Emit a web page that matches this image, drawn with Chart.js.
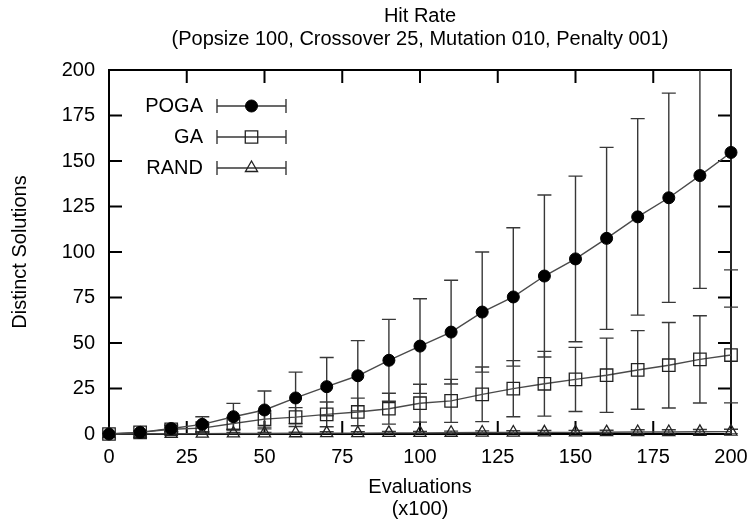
<!DOCTYPE html>
<html>
<head>
<meta charset="utf-8">
<title>Hit Rate</title>
<script src="https://cdn.jsdelivr.net/npm/chart.js@4/dist/chart.umd.min.js"></script>
<style>
  body { margin: 0; background: #fff; }
  #wrap { width: 749px; height: 520px; }
</style>
</head>
<body>
<div id="wrap"><canvas id="hitRateChart" width="749" height="520"></canvas></div>
<script>
// evaluations (x100)
var evaluations = [0, 10, 20, 30, 40, 50, 60, 70, 80, 90, 100, 110, 120, 130, 140, 150, 160, 170, 180, 190, 200];

// mean distinct solutions and error bar half-widths
var pogaMean = [0, 0.9, 3, 5.3, 9.5, 13.2, 19.8, 26, 32, 40.5, 48.3, 56, 67, 75.3, 86.8, 96.2, 107.5, 119.3, 129.8, 142, 154.7];
var pogaErr = [0.3, 0.8, 1.8, 4.2, 7.3, 10.4, 14.2, 16, 19.3, 22.5, 26, 28.5, 33, 38, 44.5, 45.5, 50, 54, 57.5, 62, 64.5];

var gaMean = [0, 0.9, 2.6, 3.2, 5.8, 8.2, 9.3, 10.8, 12.1, 13.9, 16.9, 18.2, 21.8, 24.9, 27.6, 30, 32.3, 35.2, 37.8, 41, 43.4];
var gaErr = [0.2, 0.6, 1.2, 2, 3.2, 4.4, 5.2, 6.8, 7.6, 8.5, 10.4, 11.8, 15, 15.4, 17.8, 17.6, 20.4, 21.6, 23.5, 24, 26.3];

var randMean = [0, 0.1, 0.1, 0.2, 0.3, 0.3, 0.4, 0.5, 0.5, 0.6, 0.6, 0.7, 0.8, 0.8, 0.9, 0.9, 1, 1.1, 1.1, 1.2, 1.3];
var randErr = [0, 0.2, 0.3, 0.4, 0.5, 0.5, 0.6, 0.7, 0.7, 0.8, 0.8, 0.9, 0.9, 1, 1, 1.1, 1.1, 1.2, 1.2, 1.3, 1.3];

var seriesNames = ['POGA', 'GA', 'RAND'];
var titleLines = ['Hit Rate', '(Popsize 100, Crossover 25, Mutation 010, Penalty 001)'];
var xTitleLines = ['Evaluations', '(x100)'];
var yTitle = 'Distinct Solutions';

var FONT = "'Liberation Sans', Arial, Helvetica, sans-serif";
Chart.defaults.font.family = FONT;
Chart.defaults.color = '#000';

function toPoints(means) {
    return evaluations.map(function (x, i) {
        return { x: x, y: means[i] };
    });
}

// box round the plot with inward tick marks on all four sides
var framePlugin = {
    id: 'frame',
    beforeDatasetsDraw: function (chart) {
        var ctx = chart.ctx;
        var a = chart.chartArea;
        var tick = 13;
        ctx.save();
        ctx.strokeStyle = '#000';
        ctx.lineWidth = 2;
        ctx.strokeRect(a.left, a.top, a.right - a.left, a.bottom - a.top);
        ctx.beginPath();
        chart.scales.x.ticks.forEach(function (t) {
            var px = chart.scales.x.getPixelForValue(t.value);
            ctx.moveTo(px, a.bottom);
            ctx.lineTo(px, a.bottom - tick);
            ctx.moveTo(px, a.top);
            ctx.lineTo(px, a.top + tick);
        });
        chart.scales.y.ticks.forEach(function (t) {
            var py = chart.scales.y.getPixelForValue(t.value);
            ctx.moveTo(a.left, py);
            ctx.lineTo(a.left + tick, py);
            ctx.moveTo(a.right, py);
            ctx.lineTo(a.right - tick, py);
        });
        ctx.stroke();
        ctx.restore();
    }
};

var errorBarPlugin = {
    id: 'errorBars',
    beforeDatasetsDraw: function (chart) {
        var ctx = chart.ctx;
        var a = chart.chartArea;
        var xs = chart.scales.x;
        var ys = chart.scales.y;
        var cap = 7;
        ctx.save();
        ctx.beginPath();
        ctx.rect(a.left - 10, a.top, a.right - a.left + 20, a.bottom - a.top);
        ctx.clip();
        ctx.strokeStyle = '#383838';
        ctx.lineWidth = 1.4;
        chart.data.datasets.forEach(function (ds) {
            ds.data.forEach(function (p, i) {
                var e = ds.errors[i];
                var px = xs.getPixelForValue(p.x);
                var top = ys.getPixelForValue(p.y + e);
                var bot = ys.getPixelForValue(p.y - e);
                ctx.beginPath();
                ctx.moveTo(px, top);
                ctx.lineTo(px, bot);
                ctx.moveTo(px - cap, top);
                ctx.lineTo(px + cap, top);
                ctx.moveTo(px - cap, bot);
                ctx.lineTo(px + cap, bot);
                ctx.stroke();
            });
        });
        ctx.restore();
    }
};

// gnuplot style key: name on the left, error bar sample on the right
var keyPlugin = {
    id: 'key',
    afterDatasetsDraw: function (chart) {
        var ctx = chart.ctx;
        var a = chart.chartArea;
        ctx.save();
        ctx.font = '20px ' + FONT;
        ctx.textAlign = 'right';
        ctx.textBaseline = 'middle';
        chart.data.datasets.forEach(function (ds, i) {
            var y = a.top + 36 + i * 31;
            var x0 = a.left + 108;
            var x1 = a.left + 177;
            ctx.fillStyle = '#000';
            ctx.fillText(ds.label, a.left + 94, y);
            ctx.strokeStyle = '#383838';
            ctx.lineWidth = 1.4;
            ctx.beginPath();
            ctx.moveTo(x0, y);
            ctx.lineTo(x1, y);
            ctx.moveTo(x0, y - 7);
            ctx.lineTo(x0, y + 7);
            ctx.moveTo(x1, y - 7);
            ctx.lineTo(x1, y + 7);
            ctx.stroke();
            ctx.fillStyle = ds.pointBackgroundColor;
            ctx.strokeStyle = ds.pointBorderColor;
            ctx.lineWidth = ds.pointBorderWidth;
            Chart.helpers.drawPoint(ctx, {
                pointStyle: ds.pointStyle,
                radius: ds.pointRadius,
                rotation: 0,
                borderWidth: ds.pointBorderWidth
            }, (x0 + x1) / 2, y);
        });
        ctx.restore();
    }
};

var ctx = document.getElementById('hitRateChart').getContext('2d');

var hitRateChart = new Chart(ctx, {
    type: 'line',
    data: {
        datasets: [
            {
                label: seriesNames[0],
                data: toPoints(pogaMean),
                errors: pogaErr,
                borderColor: '#4a4a4a',
                borderWidth: 1.4,
                pointStyle: 'circle',
                pointRadius: 6,
                pointBackgroundColor: '#000',
                pointBorderColor: '#000',
                pointBorderWidth: 1,
                clip: { left: 12, right: 12, top: 0, bottom: 12 }
            },
            {
                label: seriesNames[1],
                data: toPoints(gaMean),
                errors: gaErr,
                borderColor: '#4a4a4a',
                borderWidth: 1.4,
                pointStyle: 'rect',
                pointRadius: 8.8,
                pointBackgroundColor: 'rgba(0,0,0,0)',
                pointBorderColor: '#222',
                pointBorderWidth: 1.3,
                clip: { left: 12, right: 12, top: 0, bottom: 12 }
            },
            {
                label: seriesNames[2],
                data: toPoints(randMean),
                errors: randErr,
                borderColor: '#4a4a4a',
                borderWidth: 1.4,
                pointStyle: 'triangle',
                pointRadius: 7,
                pointBackgroundColor: 'rgba(0,0,0,0)',
                pointBorderColor: '#222',
                pointBorderWidth: 1.3,
                clip: { left: 12, right: 12, top: 0, bottom: 12 }
            }
        ]
    },
    options: {
        responsive: false,
        animation: false,
        layout: { padding: { top: 0, right: 18, bottom: 0, left: 0 } },
        elements: { line: { tension: 0 } },
        plugins: {
            legend: { display: false },
            tooltip: { enabled: false },
            title: {
                display: true,
                fullSize: false,
                text: titleLines,
                color: '#000',
                font: { size: 20, weight: 'normal', lineHeight: 1.15 },
                padding: { top: 5, bottom: 19 }
            }
        },
        scales: {
            x: {
                type: 'linear',
                min: 0,
                max: 200,
                ticks: {
                    stepSize: 25,
                    padding: 12,
                    maxRotation: 0,
                    color: '#000',
                    font: { size: 20, lineHeight: 1.15 }
                },
                grid: { display: false, drawTicks: false },
                border: { display: false },
                title: {
                    display: true,
                    text: xTitleLines,
                    color: '#000',
                    font: { size: 20, lineHeight: 1.1 },
                    padding: { top: 0, bottom: 0 }
                },
                afterFit: function (scale) {
                    scale.height = 86;
                    scale.paddingLeft = 0;
                    scale.paddingRight = 0;
                }
            },
            y: {
                min: 0,
                max: 200,
                ticks: {
                    stepSize: 25,
                    padding: 14,
                    color: '#000',
                    font: { size: 20, lineHeight: 1.15 }
                },
                grid: { display: false, drawTicks: false },
                border: { display: false },
                title: {
                    display: true,
                    text: yTitle,
                    color: '#000',
                    font: { size: 20, lineHeight: 1.2 },
                    padding: { top: 8, bottom: 0 }
                },
                afterFit: function (scale) {
                    scale.width = 109;
                    scale.paddingTop = 0;
                    scale.paddingBottom = 0;
                }
            }
        }
    },
    plugins: [framePlugin, errorBarPlugin, keyPlugin]
});
</script>
</body>
</html>
